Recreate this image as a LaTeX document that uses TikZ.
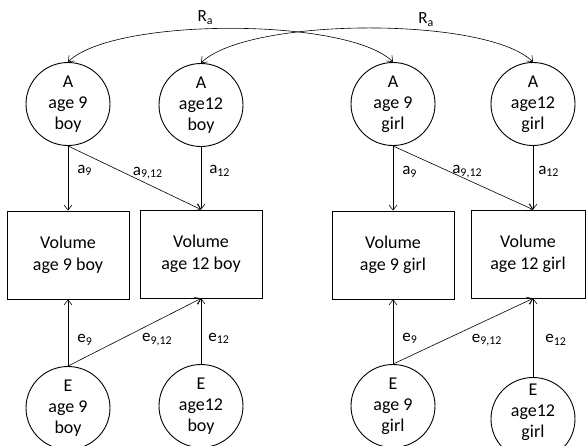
\documentclass[tikz,border=0pt]{standalone}
\usepackage{fontspec}
\setmainfont{Carlito}
\usetikzlibrary{shapes.geometric,arrows.meta}
\tikzset{
latent/.style={ellipse, draw, line width=0.9pt, minimum width=84pt, minimum height=83pt,
  inner sep=0pt, align=center, font=\fontsize{18}{21}\selectfont},
observed/.style={rectangle, draw, line width=0.9pt, minimum width=122pt, minimum height=88pt,
  align=center, font=\fontsize{18}{22}\selectfont},
coef/.style={font=\fontsize{17}{17}\selectfont, inner sep=1pt},
}

\begin{document}
\begin{tikzpicture}[x=1pt, y=-1pt, line width=0.6pt,
>={Straight Barb[length=5pt,width=8pt]}]
\useasboundingbox (0,0) rectangle (587,445);
\clip (0,0) rectangle (587,445);

\node[latent] (A9b) at (68,104) {A\\age 9\\boy};
\node[latent] (A12b) at (201,105) {A\\age12\\boy};
\node[latent] (A9g) at (393,104) {A\\age 9\\girl};
\node[latent] (A12g) at (533,104) {A\\age12\\girl};

\node[observed] (V9b) at (68,255) {Volume\\age 9 boy};
\node[observed] (V12b) at (201,254) {Volume\\age 12 boy};
\node[observed] (V9g) at (393,255) {Volume\\age 9 girl};
\node[observed, minimum width=114pt] (V12g) at (528,254) {Volume\\age 12 girl};

\node[latent] (E9b) at (68,408) {E\\age 9\\boy};
\node[latent] (E12b) at (201,406) {E\\age12\\boy};
\node[latent] (E9g) at (393,406) {E\\age 9\\girl};
\node[latent, label={[align=center, font=\fontsize{18}{21}\selectfont, yshift=7pt]center:E\\age12\\girl}]
  (E12g) at (533,419) {};

\draw[<->] (A9b.north) to[out=45,in=135,looseness=0.5]
  node[coef, pos=0.44, above=3pt] {R\textsubscript{a}} (A9g.north);
\draw[<->] (A12b.north) to[out=45,in=135,looseness=0.5]
  node[coef, pos=0.64, above=3pt] {R\textsubscript{a}} (A12g.north);

\draw[->] (A9b) -- node[coef, pos=0.38, right=8pt] {a\textsubscript{9}} (V9b);
\draw[->] (A9b.south) -- node[coef, pos=0.6, yshift=11pt] {a\textsubscript{9,12}} (V12b.north);
\draw[->] (A12b) -- node[coef, pos=0.38, right=7pt] {a\textsubscript{12}} (V12b);
\draw[->] (A9g) -- node[coef, pos=0.4, right=8pt] {a\textsubscript{9}} (V9g);
\draw[->] (A9g.south) -- node[coef, pos=0.53, yshift=8pt] {a\textsubscript{9,12}} (V12g.north -| A12g);
\draw[->] (A12g) -- node[coef, pos=0.4, right=4pt] {a\textsubscript{12}} (A12g |- V12g.north);

\draw[->] (E9b) -- node[coef, pos=0.39, right=8pt] {e\textsubscript{9}} (V9b);
\draw[->] (E9b.north) -- node[coef, pos=0.67, yshift=-19pt] {e\textsubscript{9,12}} (V12b.south);
\draw[->] (E12b) -- node[coef, pos=0.39, right=6pt] {e\textsubscript{12}} (V12b);
\draw[->] (E9g) -- node[coef, pos=0.4, right=8pt] {e\textsubscript{9}} (V9g);
\draw[->] (E9g.north) -- node[coef, pos=0.67, yshift=-20pt] {e\textsubscript{9,12}} (V12g.south -| E12g);
\draw[->] (E12g) -- node[coef, pos=0.47, right=11pt] {e\textsubscript{12}} (E12g |- V12g.south);
\end{tikzpicture}
\end{document}
